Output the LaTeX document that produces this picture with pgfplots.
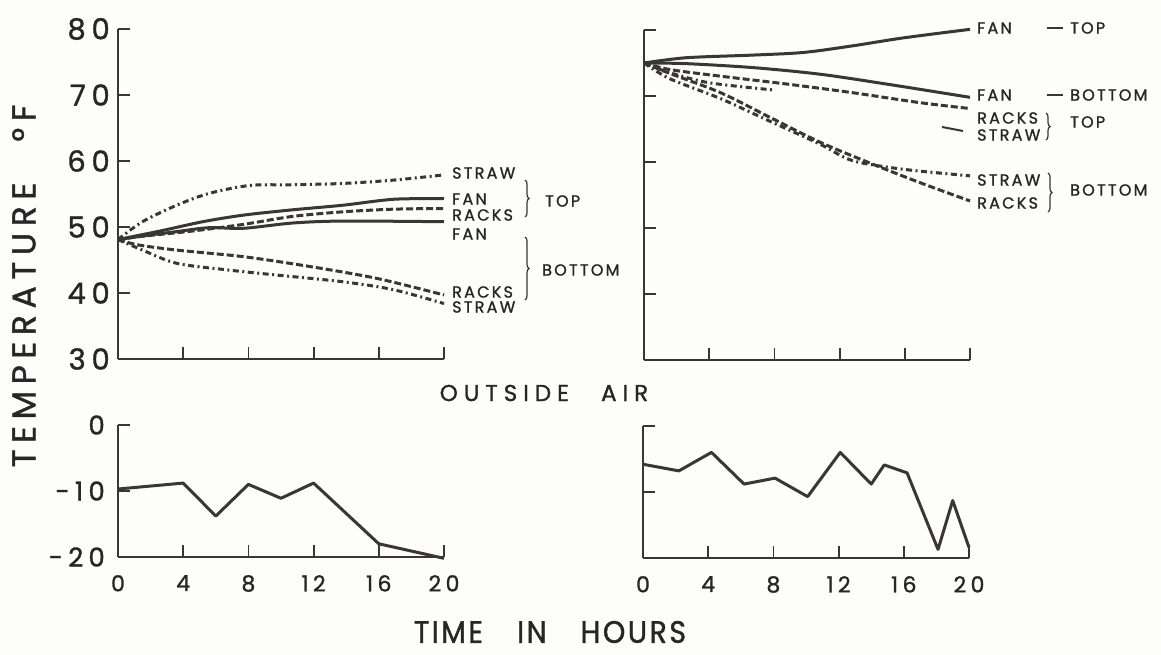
\documentclass[border=0pt]{standalone}
\usepackage{fontspec}
\setmainfont{Poppins}
\newfontfamily\lab[LetterSpace=14, FakeBold=1.2]{Poppins}
\newfontfamily\labw[LetterSpace=20, FakeBold=1.2]{Poppins}
\newfontfamily\labo[LetterSpace=26, FakeBold=1.2]{Poppins}
\newfontfamily\labt[LetterSpace=8, FakeBold=1.2, FakeStretch=0.92]{Poppins}
\newfontfamily\labn[LetterSpace=20, FakeBold=1.2]{Poppins}
\usepackage{pgfplots}
\pgfplotsset{compat=1.18}
\usetikzlibrary{decorations.pathreplacing}
\definecolor{ink}{RGB}{58,54,50}
\definecolor{txt}{RGB}{38,38,38}
\definecolor{bg}{RGB}{253,253,250}
\pgfplotsset{
  panel/.style={
    scale only axis, width=326pt, anchor=south west,
    xmin=0, xmax=20, xtick={0,4,...,20},
    axis x line=bottom, axis y line=left,
    axis line style={-, line width=1.8pt, draw=ink},
    tick style={line width=1.8pt, draw=ink},
    tick align=inside, major tick length=12pt,
    clip=false,
    /pgf/number format/assume math mode=true,
    yticklabel style={anchor=east, inner sep=0pt, text=txt},
    xticklabel style={anchor=north, inner sep=0pt, yshift=-18pt, text=txt,
      font=\fontsize{22}{22}\selectfont\labn},
  },
  toppanel/.style={panel, height=330pt, ymin=30, ymax=80, ytick={30,40,...,80},
    xticklabels={}},
  botpanel/.style={panel, height=132pt, ymin=-20, ymax=0, ytick={-20,-10,0},
    xticklabels={0,4,8,12,16,20}},
  solidl/.style={line width=3pt, draw=ink, smooth},
  dashl/.style={line width=3pt, draw=ink, smooth, dash pattern=on 7pt off 3pt},
  dotl/.style={line width=3pt, draw=ink, smooth, dash pattern=on 6pt off 3.5pt on 2pt off 3.5pt},
}
\newcommand{\ann}{\fontsize{16}{16}\selectfont\lab}
\begin{document}
\begin{tikzpicture}
\path[use as bounding box, fill=bg] (0,0) rectangle (1161pt,655pt);

% ---------- top left ----------
\begin{axis}[toppanel, at={(118pt,296pt)},
  yticklabels={30,40,50,60,70,80},
  yticklabel style={xshift=-8pt, font=\fontsize{29}{29}\selectfont\labn}]
\addplot[dotl] coordinates {(0,48.1) (1.5,50.8) (3.6,53.3) (5.6,55.1) (8.1,56.3) (10.7,56.4) (13.8,56.6) (16.9,57.1) (20,57.9)};
\addplot[solidl] coordinates {(0,48.1) (2.6,49.4) (5.2,50.8) (7.7,51.8) (10.7,52.6) (13.8,53.3) (16.9,54.2) (20,54.3)};
\addplot[dashl] coordinates {(0,48.1) (1.5,48.6) (4.6,49.4) (7.7,50.4) (10.7,51.6) (13.8,52.3) (16.9,52.7) (20,52.8)};
\addplot[solidl] coordinates {(0,48.1) (2,48.8) (3.6,49.3) (5.6,49.9) (7.7,49.8) (10.7,50.6) (13.8,50.9) (20,50.8)};
\addplot[dashl] coordinates {(0,48.1) (1.2,47.3) (3.6,46.5) (7.7,45.5) (11.8,44.0) (15.9,42.2) (20,39.7)};
\addplot[dotl] coordinates {(0,48.1) (1.5,46.5) (3.6,44.5) (6.7,43.5) (9.8,42.7) (13.8,41.7) (16.9,40.5) (20,38.4)};
\end{axis}

% ---------- top right ----------
\begin{axis}[toppanel, at={(644pt,295pt)}, yticklabels={}]
\addplot[solidl] coordinates {(0,75) (2.6,75.8) (6.7,76.2) (9.8,76.6) (12.8,77.6) (15.9,78.8) (20,80.1)};
\addplot[solidl] coordinates {(0,75) (2.6,74.9) (6.7,74.3) (10.8,73.3) (14.9,71.8) (20,69.8)};
\addplot[dashl] coordinates {(0,75) (1.6,74.0) (4.7,73.0) (8.8,71.8) (12.8,70.5) (16.9,69.0) (20,68.1)};
\addplot[dotl] coordinates {(0,75) (1.5,73.6) (4,72.0) (8,70.9)};
\addplot[dotl] coordinates {(0,75) (1.6,72.6) (4.7,69.6) (7.7,66.2) (10.8,62.7) (12.8,60.2) (15.9,58.9) (20,57.9)};
\addplot[dashl] coordinates {(0,75) (1.6,73.4) (4.7,70.5) (7.7,66.8) (10.8,63.0) (13.9,59.8) (16.9,56.9) (20,54.1)};
\end{axis}

% ---------- bottom left ----------
\begin{axis}[botpanel, at={(118pt,98pt)},
  yticklabels={-20,-10,0},
  yticklabel style={xshift=-13pt, font=\fontsize{26}{26}\selectfont\labn}]
\addplot[line width=3pt, draw=ink, line join=round] coordinates {(0,-9.7) (4,-8.8) (6,-13.8) (8,-9.0) (10,-11.1) (12,-8.8) (16,-18.0) (20,-20.2)};
\end{axis}

% ---------- bottom right ----------
\begin{axis}[botpanel, at={(643pt,97pt)}, yticklabels={}]
\addplot[line width=3pt, draw=ink, line join=round] coordinates {(0,-5.8) (2.2,-6.8) (4.2,-4.0) (6.2,-8.8) (8.1,-7.9) (10.1,-10.7) (12.1,-4.0) (14,-8.8) (14.8,-5.9) (16.2,-7.1) (18.1,-18.7) (19,-11.3) (20,-18.4)};
\end{axis}

% ---------- titles ----------
\node[rotate=90, inner sep=0pt, text=txt, font=\fontsize{33}{33}\selectfont\labw] at (24pt,369pt) {TEMPERATURE\hspace{1.25em}°F};
\node[inner sep=0pt, text=txt, font=\fontsize{23}{23}\selectfont\labo] at (544pt,262pt) {OUTSIDE\hspace{1.4em}AIR};
\node[inner sep=0pt, text=txt, font=\fontsize{31}{31}\selectfont\labt] at (550pt,23pt) {TIME\hspace{1.1em}IN\hspace{1.1em}HOURS};

% ---------- left annotations ----------
\begin{scope}[every node/.style={anchor=west, inner sep=0pt, text=txt, font=\ann}]
\node at (452pt,482pt) {STRAW};
\node at (452pt,456pt) {FAN};
\node at (452pt,440pt) {RACKS};
\node at (452pt,421pt) {FAN};
\node at (452pt,363pt) {RACKS};
\node at (452pt,348pt) {STRAW};
\node at (545pt,454pt) {TOP};
\node at (542pt,385pt) {BOTTOM};
% right annotations
\node at (977pt,627pt) {FAN};
\node at (1070pt,627pt) {TOP};
\node at (977pt,560pt) {FAN};
\node at (1070pt,560pt) {BOTTOM};
\node at (977pt,537pt) {RACKS};
\node at (977pt,520pt) {STRAW};
\node at (1070pt,533pt) {TOP};
\node at (977pt,475pt) {STRAW};
\node at (977pt,452pt) {RACKS};
\node at (1070pt,465pt) {BOTTOM};
\end{scope}
\draw[ink, line width=1.6pt] (1047pt,627pt) -- (1063pt,627pt);
\draw[ink, line width=1.6pt] (1047pt,560pt) -- (1063pt,560pt);
\draw[ink, line width=2pt] (942pt,528pt) -- (963pt,524pt);
\begin{scope}[ink, line width=1.2pt, decoration={brace, amplitude=4pt}]
\draw[decorate] (525pt,475pt) -- (525pt,438pt);
\draw[decorate] (525pt,418pt) -- (525pt,355pt);
\draw[decorate] (1046pt,542pt) -- (1046pt,515pt);
\draw[decorate] (1048pt,482pt) -- (1048pt,443pt);
\end{scope}
\end{tikzpicture}
\end{document}
